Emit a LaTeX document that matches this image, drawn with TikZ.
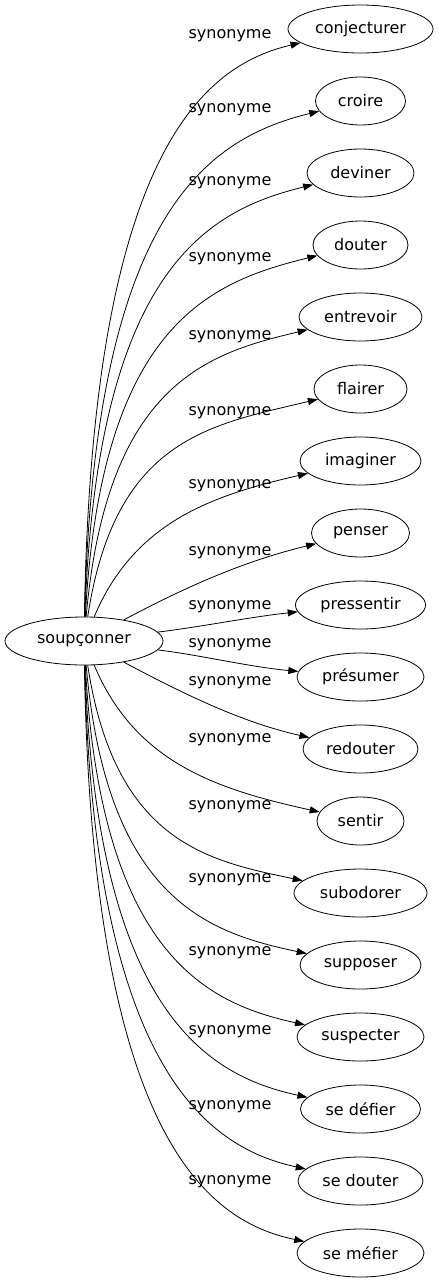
\documentclass[tikz,border=0pt]{standalone}
\usepackage{fontspec}
\setmainfont{DejaVu Sans}
\usetikzlibrary{arrows.meta,shapes.geometric}
\tikzset{
  word/.style={draw, ellipse, inner sep=0pt, minimum height=48pt, font=\fontsize{16}{19}\selectfont},
  syn/.style={inner sep=0pt, font=\fontsize{16}{19}\selectfont},
  link/.style={-{Triangle[length=10pt,width=7pt]}},
}
\begin{document}
\begin{tikzpicture}[x=1pt,y=-1pt,line width=0.8pt]
  \useasboundingbox (0,0) rectangle (439,1283);
  \node[word, minimum width=158pt] (src) at (84,641) {soupçonner};
  \node[word, minimum width=145pt] (conj) at (360.5,29) {conjecturer};
  \node[word, minimum width=90pt] (croi) at (360.5,101) {croire};
  \node[word, minimum width=107pt] (devi) at (360.5,173) {deviner};
  \node[word, minimum width=95pt] (dout) at (360.5,245) {douter};
  \node[word, minimum width=123pt] (entr) at (360.5,317) {entrevoir};
  \node[word, minimum width=93pt] (flai) at (360.5,389) {flairer};
  \node[word, minimum width=121pt] (imag) at (360.5,461) {imaginer};
  \node[word, minimum width=98pt] (pens) at (360.5,533) {penser};
  \node[word, minimum width=130pt] (pres) at (360.5,605) {pressentir};
  \node[word, minimum width=127pt] (presu) at (360.5,677) {présumer};
  \node[word, minimum width=115pt] (redo) at (360.5,749) {redouter};
  \node[word, minimum width=87pt] (sent) at (360.5,821) {sentir};
  \node[word, minimum width=133pt] (subo) at (360.5,893) {subodorer};
  \node[word, minimum width=121pt] (supp) at (360.5,965) {supposer};
  \node[word, minimum width=127pt] (susp) at (360.5,1037) {suspecter};
  \node[word, minimum width=120pt] (sedef) at (360.5,1109) {se défier};
  \node[word, minimum width=125pt] (sedou) at (360.5,1181) {se douter};
  \node[word, minimum width=127pt] (semef) at (360.5,1253) {se méfier};
  % edge labels
  \node[syn] (l0) at (230,36) {synonyme};
  \node[syn] (l1) at (230,110) {synonyme};
  \node[syn] (l2) at (230,183) {synonyme};
  \node[syn] (l3) at (230,259) {synonyme};
  \node[syn] (l4) at (230,337) {synonyme};
  \node[syn] (l5) at (230,413) {synonyme};
  \node[syn] (l6) at (230,486) {synonyme};
  \node[syn] (l7) at (230,553) {synonyme};
  \node[syn] (l8) at (230,607) {synonyme};
  \node[syn] (l9) at (230,645) {synonyme};
  \node[syn] (l10) at (230,683) {synonyme};
  \node[syn] (l11) at (230,740) {synonyme};
  \node[syn] (l12) at (230,807) {synonyme};
  \node[syn] (l13) at (230,880) {synonyme};
  \node[syn] (l14) at (230,953) {synonyme};
  \node[syn] (l15) at (230,1032) {synonyme};
  \node[syn] (l16) at (230,1107) {synonyme};
  \node[syn] (l17) at (230,1182) {synonyme};
  % edges
  \draw[link] (src) .. controls (92,150) and (205,65) .. (conj);
  \draw[link] (src) .. controls (94,209) and (210,138) .. (croi);
  \draw[link] (src) .. controls (97,266) and (210,210) .. (devi);
  \draw[link] (src) .. controls (101,324) and (210,282) .. (dout);
  \draw[link] (src) .. controls (107,381) and (210,353) .. (entr);
  \draw[link] (src) .. controls (115,438) and (210,425) .. (flai);
  \draw[link] (src) .. controls (135,520) and (215,495) .. (imag);
  \draw[link] (src) .. controls (180,590) and (240,562) .. (pens);
  \draw[link] (src) .. controls (200,627) and (250,617) .. (pres);
  \draw[link] (src) .. controls (200,655) and (250,667) .. (presu);
  \draw[link] (src) .. controls (180,692) and (240,722) .. (redo);
  \draw[link] (src) .. controls (135,762) and (215,789) .. (sent);
  \draw[link] (src) .. controls (115,844) and (210,861) .. (subo);
  \draw[link] (src) .. controls (107,901) and (210,933) .. (supp);
  \draw[link] (src) .. controls (101,958) and (210,1004) .. (susp);
  \draw[link] (src) .. controls (97,1016) and (210,1076) .. (sedef);
  \draw[link] (src) .. controls (94,1073) and (210,1148) .. (sedou);
  \draw[link] (src) .. controls (92,1132) and (205,1221) .. (semef);
\end{tikzpicture}
\end{document}
